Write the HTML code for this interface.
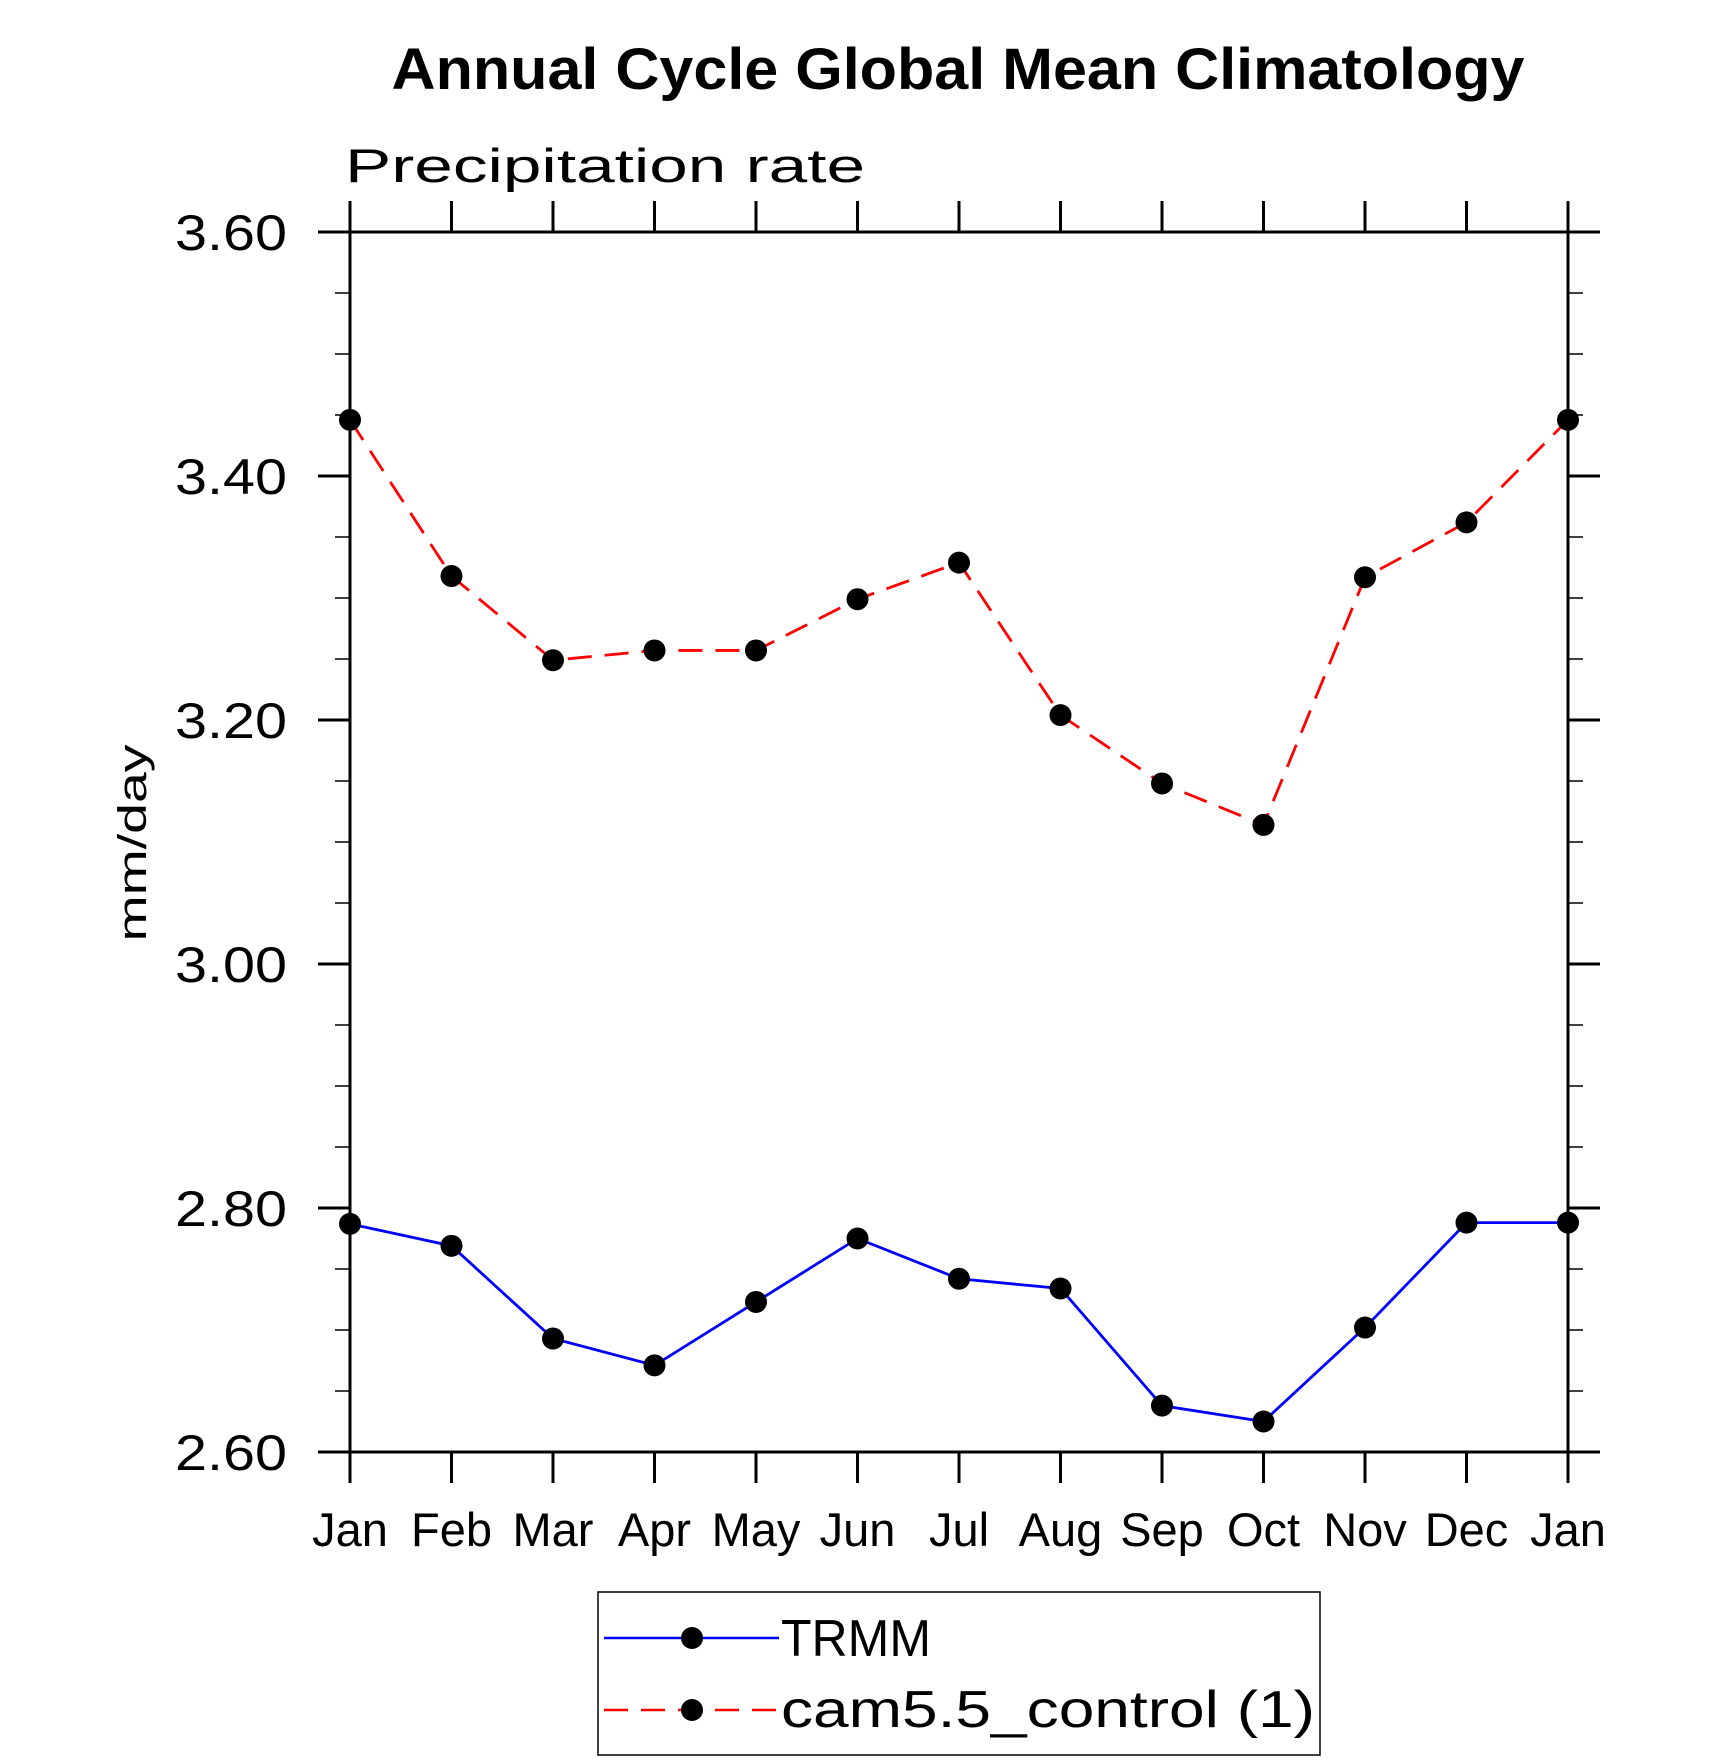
<!DOCTYPE html>
<html><head><meta charset="utf-8"><style>body{margin:0;background:#fff}svg{display:block}</style></head>
<body>
<svg id="chart" width="1710" height="1762" viewBox="0 0 1710 1762" xmlns="http://www.w3.org/2000/svg" font-family="'Liberation Sans', sans-serif">
<text x="958" y="89" text-anchor="middle" font-size="58" font-weight="bold" textLength="1133" lengthAdjust="spacingAndGlyphs">Annual Cycle Global Mean Climatology</text>
<text x="345" y="182" font-size="47" textLength="520" lengthAdjust="spacingAndGlyphs" font-weight="300">Precipitation rate</text>
<text transform="translate(146,843) rotate(-90)" text-anchor="middle" font-size="40" textLength="197" lengthAdjust="spacingAndGlyphs">mm/day</text>
<g id="axes"></g>
<g id="series"></g>
<g id="legend">
<rect x="598" y="1592" width="722" height="163" fill="none" stroke="#000" stroke-width="1.5"/>
<g>
<line x1="604" y1="1638" x2="779" y2="1638" stroke="#0000ff" stroke-width="2.5"/>
<circle cx="692" cy="1638" r="11"/>
<text x="781" y="1656" font-size="52" textLength="150" lengthAdjust="spacingAndGlyphs">TRMM</text>
</g>
<g>
<line x1="604" y1="1710" x2="779" y2="1710" stroke="#ff0000" stroke-width="2.5" stroke-dasharray="24,13"/>
<circle cx="692" cy="1710" r="11"/>
<text x="781" y="1727" font-size="52" textLength="534" lengthAdjust="spacingAndGlyphs">cam5.5_control (1)</text>
</g>
</g>
</svg>
<script>
const months = ["Jan","Feb","Mar","Apr","May","Jun","Jul","Aug","Sep","Oct","Nov","Dec","Jan"];
const trmmValues = [2.787,2.769,2.693,2.671,2.723,2.775,2.742,2.734,2.638,2.625,2.702,2.788,2.788];
const camValues = [3.446,3.318,3.249,3.257,3.257,3.299,3.329,3.204,3.148,3.114,3.317,3.362,3.446];
const yTicks = ["2.60","2.80","3.00","3.20","3.40","3.60"];

const NS="http://www.w3.org/2000/svg";
const X0=350,X1=1568,Y0=1452,Y1=232,YMIN=2.6,YMAX=3.6;
const xs=i=>X0+(X1-X0)*i/(months.length-1);
const ys=v=>Y0-(Y0-Y1)*(v-YMIN)/(YMAX-YMIN);
function mk(tag,attrs,parent){const e=document.createElementNS(NS,tag);for(const k in attrs)e.setAttribute(k,attrs[k]);parent.appendChild(e);return e;}
const axes=document.getElementById('axes');
const frame=mk('rect',{x:X0,y:Y1,width:X1-X0,height:Y0-Y1,fill:'none',stroke:'#000','stroke-width':3},axes);


for(let v=YMIN;v<=YMAX+1e-9;v+=0.05){
  const major=Math.abs(Math.round(v*5)-v*5)<1e-6;
  const y=ys(v);
  const len=major?32:15;
  const t1=mk('line',{x1:X0-len,y1:y,x2:X0,y2:y,stroke:'#000','stroke-width':major?3:1.5},axes);
  
  
  const t2=mk('line',{x1:X1,y1:y,x2:X1+len,y2:y,stroke:'#000','stroke-width':major?3:1.5},axes);
  
  
}
yTicks.forEach(l=>{
  const t=mk('text',{x:287,y:ys(parseFloat(l))+18,'text-anchor':'end','font-size':50,textLength:112,lengthAdjust:'spacingAndGlyphs'},axes);
  t.textContent=l;
  
  
});
months.forEach((m,i)=>{
  const x=xs(i);
  const a=mk('line',{x1:x,y1:Y0,x2:x,y2:Y0+31,stroke:'#000','stroke-width':3},axes);
  
  
  const b=mk('line',{x1:x,y1:Y1-31,x2:x,y2:Y1,stroke:'#000','stroke-width':3},axes);
  
  
  const t=mk('text',{x:x,y:1546,'text-anchor':'middle','font-size':47},axes);
  t.textContent=m;
  
  
});
const series=document.getElementById('series');
function draw(vals,color,dash,name){
  const g=mk('g',{},series);
  
  
  const p=mk('polyline',{points:vals.map((v,i)=>xs(i)+','+ys(v)).join(' '),fill:'none',stroke:color,'stroke-width':2.8},g);
  if(dash)p.setAttribute('stroke-dasharray',dash);
  
  
  vals.forEach((v,i)=>{
    const c=mk('circle',{cx:xs(i),cy:ys(v),r:11,fill:'#000'},g);
    
    
  });
}
draw(camValues,'#ff0000','24,13','cam-series');
draw(trmmValues,'#0000ff',null,'trmm-series');
</script>
</body></html>
